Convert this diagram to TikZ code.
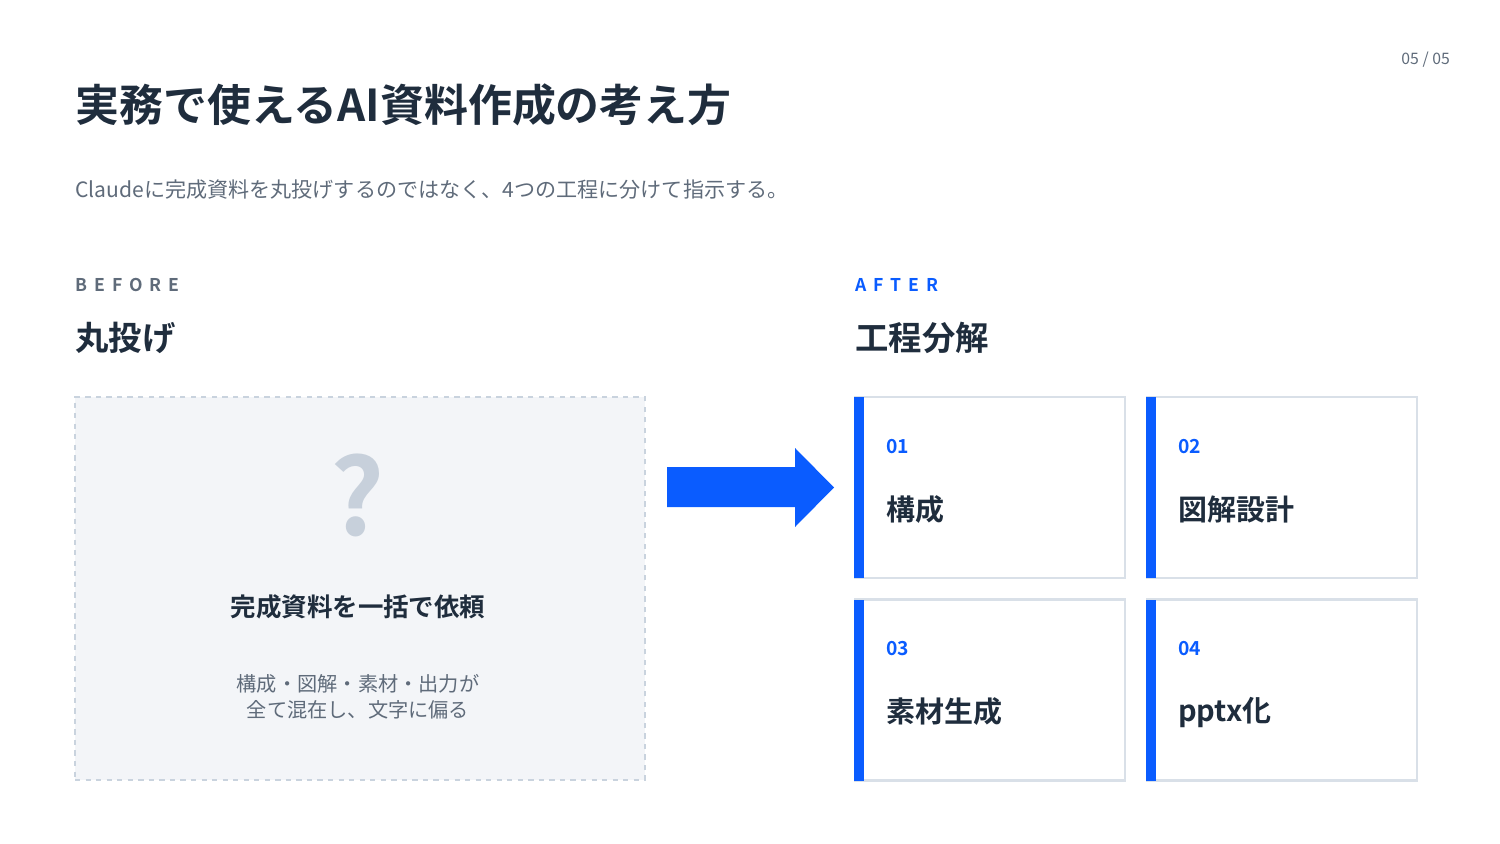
\documentclass[tikz,border=0pt]{standalone}
\usepackage{fontspec}
\setmainfont{Noto Sans CJK JP}
\newfontfamily\jpbold{Noto Sans CJK JP Bold}
\newfontfamily\spaced[LetterSpace=40]{Noto Sans CJK JP Bold}
\usetikzlibrary{positioning}
\definecolor{ink}{HTML}{1F2D3D}
\definecolor{mute}{HTML}{5F6B7A}
\definecolor{accent}{HTML}{0A5CFF}
\definecolor{panel}{HTML}{F3F5F8}
\definecolor{rim}{HTML}{C9D3DE}
\definecolor{qmark}{HTML}{C7D0DB}
\tikzset{
  card/.style={draw=rim!70,line width=1.2pt,fill=white,minimum width=270*0.02cm,minimum height=181*0.02cm,inner sep=0pt},
  bar/.style={fill=accent,minimum width=10*0.02cm,minimum height=181*0.02cm,inner sep=0pt},
  num/.style={anchor=west,text=accent,font=\jpbold\fontsize{11}{13}\selectfont},
  lbl/.style={anchor=west,text=ink,font=\jpbold\fontsize{16.5}{20}\selectfont},
}
\begin{document}
\begin{tikzpicture}[x=0.02cm,y=-0.02cm]
\useasboundingbox (0,0) rectangle (1500,844);

\node [anchor=east,text=mute,font=\fontsize{9}{11}\selectfont] at (1456,60) (page) {05 / 05};
\node [anchor=west,text=ink,font=\jpbold\fontsize{25}{30}\selectfont,inner sep=0pt] at (75,105) (title) {実務で使えるAI資料作成の考え方};
\node [anchor=west,text=mute,font=\fontsize{12}{14}\selectfont,inner sep=0pt] at (75,190) (sub) {Claudeに完成資料を丸投げするのではなく、4つの工程に分けて指示する。};

\node [anchor=west,text=mute,font=\spaced\fontsize{10}{12}\selectfont,inner sep=0pt] at (75,285) (before) {BEFORE};
\node [anchor=west,text=ink,font=\jpbold\fontsize{19}{23}\selectfont,inner sep=0pt] at (75,338) (maru) {丸投げ};
\node [anchor=west,text=accent,font=\spaced\fontsize{10}{12}\selectfont,inner sep=0pt] at (855,285) (after) {AFTER};
\node [anchor=west,text=ink,font=\jpbold\fontsize{19}{23}\selectfont,inner sep=0pt] at (855,338) (koutei) {工程分解};

% before panel
\node [draw=rim,dashed,line width=0.8pt,fill=panel,minimum width=570*0.02cm,minimum height=383*0.02cm,inner sep=0pt] at (360,588.5) (box) {};
\node [text=qmark,font=\jpbold\fontsize{60}{60}\selectfont] at (358,495) (q) {?};
\node [text=ink,font=\jpbold\fontsize{14.5}{17}\selectfont] at (358,607) (req) {完成資料を一括で依頼};
\node [text=mute,font=\fontsize{11.5}{14.5}\selectfont,align=center] at (358,697) (note) {構成・図解・素材・出力が\\全て混在し、文字に偏る};

% arrow
\fill [accent] (667,467) -- (795,467) -- (795,448) -- (834,487.5) -- (795,527) -- (795,507) -- (667,507) -- cycle;

% cards
\node [card] at (990,487.5) (c1) {};
\node [card] at (1282,487.5) (c2) {};
\node [card] at (990,690) (c3) {};
\node [card] at (1282,690) (c4) {};
\node [bar,anchor=west] at (c1.west) (b1) {};
\node [bar,anchor=west] at (c2.west) (b2) {};
\node [bar,anchor=west] at (c3.west) (b3) {};
\node [bar,anchor=west] at (c4.west) (b4) {};

\node [num] at (880,447) (n1) {01};
\node [lbl] at (880,510) (l1) {構成};
\node [num] at (1172,447) (n2) {02};
\node [lbl] at (1172,510) (l2) {図解設計};
\node [num] at (880,649) (n3) {03};
\node [lbl] at (880,712) (l3) {素材生成};
\node [num] at (1172,649) (n4) {04};
\node [lbl] at (1172,712) (l4) {pptx化};

\end{tikzpicture}
\end{document}
